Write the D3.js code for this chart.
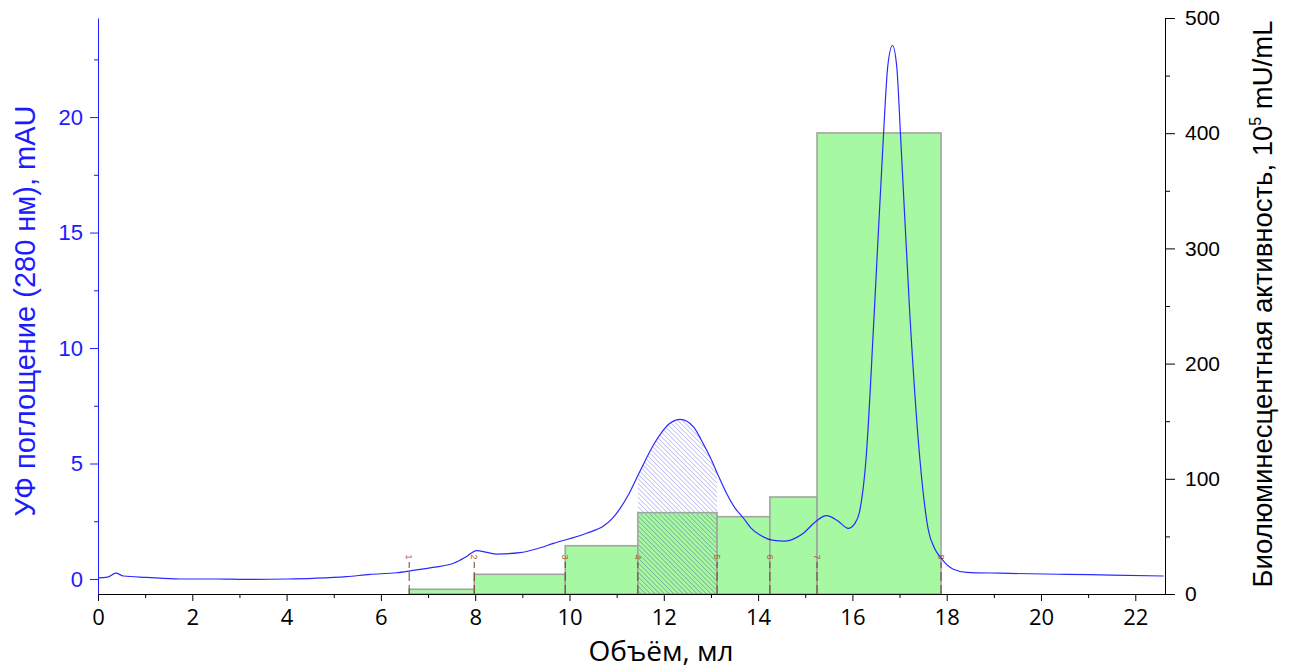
<!DOCTYPE html>
<html>
<head>
<meta charset="utf-8">
<script src="https://cdn.jsdelivr.net/npm/d3@7"></script>
<style>
  body { margin: 0; background: #fff; }
  svg { display: block; }
</style>
</head>
<body>
<svg id="chart" width="1290" height="670"></svg>
<script>
// fraction boundaries (ml) and their labels
const fractionEdges = [6.60, 7.98, 9.91, 11.45, 13.13, 14.25, 15.25, 17.88];
const fractionLabels = ["1", "2", "3", "4", "5", "6", "7", "8"];
// bioluminescent activity per fraction, 10^5 mU/mL
const activity = [4.1, 17.1, 41.9, 70.6, 67.1, 84.2, 400.2];
const hatchedFraction = 3;

// UV 280 nm trace
const uvVolume = [0, 0.2, 0.38, 0.54, 1.03, 1.74, 2.5, 3.15, 4.0, 4.56, 5.27, 5.77, 6.33, 6.62, 7.1, 7.54, 7.8, 8.03, 8.25, 8.46,
  8.95, 9.3, 9.66, 10.36, 10.72, 10.9, 11.07, 11.25, 11.42, 11.6, 11.78, 11.92, 12.13, 12.35, 12.63, 12.8, 12.98, 13.15, 13.33, 13.5,
  13.69, 13.85, 14.04, 14.3, 14.57, 14.8, 14.96, 15.2, 15.45, 15.7, 15.91, 16.05, 16.15, 16.29, 16.46, 16.66, 16.75, 16.85, 16.94, 17.02,
  17.22, 17.43, 17.61, 17.75, 17.88, 18.14, 18.42, 19.13, 20.54, 21.5, 22.6];
const uvAbs = [0.05, 0.08, 0.25, 0.13, 0.07, 0.0, 0.0, -0.02, 0.0, 0.03, 0.1, 0.2, 0.27, 0.35, 0.5, 0.68, 0.95, 1.23, 1.15, 1.08,
  1.14, 1.3, 1.54, 1.98, 2.29, 2.6, 3.05, 3.65, 4.35, 5.1, 5.8, 6.25, 6.74, 6.91, 6.59, 6.0, 5.29, 4.5, 3.71, 3.1,
  2.63, 2.2, 1.9, 1.68, 1.64, 1.78, 1.98, 2.45, 2.74, 2.5, 2.19, 2.4, 2.9, 5.22, 11.39, 19.26, 22.2, 23.1, 22.2, 19.26,
  11.39, 5.22, 2.13, 1.3, 0.9, 0.42, 0.29, 0.25, 0.2, 0.17, 0.13];

const xTicks = [0, 2, 4, 6, 8, 10, 12, 14, 16, 18, 20, 22];
const leftTicks = [0, 5, 10, 15, 20];
const rightTicks = [0, 100, 200, 300, 400, 500];

const plotLeft = 98, plotRight = 1165, plotTop = 18, plotBottom = 594;
const svg = d3.select("#chart");

const x = d3.scaleLinear().domain([0, 22.63]).range([plotLeft, plotRight]);
const yL = d3.scaleLinear().domain([-0.65, 24.29]).range([plotBottom, plotTop]);
const yR = d3.scaleLinear().domain([0, 500]).range([plotBottom, plotTop]);

const uv = uvVolume.map((v, i) => ({ v: v, a: uvAbs[i] }));
const bars = activity.map((a, i) => ({ x0: fractionEdges[i], x1: fractionEdges[i + 1], a: a }));

// hatch patterns
const defs = svg.append("defs");
function hatch(id, color, w) {
  const p = defs.append("pattern")
    .attr("id", id)
    .attr("patternUnits", "userSpaceOnUse")
    .attr("width", 3.3).attr("height", 3.3)
    .attr("patternTransform", "rotate(-45)");
  p.append("line")
    .attr("x1", 0).attr("y1", 0).attr("x2", 0).attr("y2", 3.3)
    .attr("stroke", color).attr("stroke-width", w);
}
hatch("hatchLight", "#9c9cea", 1.1);
hatch("hatchDark", "#5a7a90", 1.1);

const hb = bars[hatchedFraction];
defs.append("clipPath").attr("id", "peakClip")
  .append("rect")
  .attr("x", x(hb.x0)).attr("y", plotTop)
  .attr("width", x(hb.x1) - x(hb.x0)).attr("height", plotBottom - plotTop);

const curve = d3.curveMonotoneX;

// hatched area under the UV peak of the active fraction
svg.append("path")
  .datum(uv)
  .attr("clip-path", "url(#peakClip)")
  .attr("fill", "url(#hatchLight)")
  .attr("d", d3.area().curve(curve).x(d => x(d.v)).y0(plotBottom).y1(d => yL(d.a)));

// activity bars
svg.selectAll("rect.bar")
  .data(bars)
  .enter()
  .append("rect")
  .attr("class", "bar")
  .attr("x", d => x(d.x0))
  .attr("y", d => yR(d.a))
  .attr("width", d => x(d.x1) - x(d.x0))
  .attr("height", d => yR(0) - yR(d.a))
  .attr("fill", "#a6f9a2")
  .attr("stroke", "#a3a3a3")
  .attr("stroke-width", 1.6);

svg.append("rect")
  .attr("x", x(hb.x0) + 1)
  .attr("y", yR(hb.a) + 1)
  .attr("width", x(hb.x1) - x(hb.x0) - 2)
  .attr("height", yR(0) - yR(hb.a) - 1)
  .attr("fill", "url(#hatchDark)")
  .attr("opacity", 0.85);

// fraction markers
const marks = svg.append("g");
fractionEdges.forEach((e, i) => {
  marks.append("line")
    .attr("x1", x(e)).attr("x2", x(e))
    .attr("y1", plotBottom).attr("y2", 562)
    .attr("stroke", "#6e4320")
    .attr("stroke-width", 1)
    .attr("stroke-dasharray", "9,4");
  marks.append("text")
    .attr("transform", "translate(" + (x(e) - 3) + ",557) rotate(90)")
    .attr("text-anchor", "middle")
    .attr("font-family", "Liberation Sans, Arial, sans-serif")
    .attr("font-size", 9)
    .attr("fill", "#a8602c")
    .text(fractionLabels[i]);
});

// UV trace
svg.append("path")
  .datum(uv)
  .attr("fill", "none")
  .attr("stroke", "#2a2aff")
  .attr("stroke-width", 1.2)
  .attr("d", d3.line().curve(curve).x(d => x(d.v)).y(d => yL(d.a)));

// bottom axis
const xAxis = svg.append("g")
  .attr("transform", "translate(0," + plotBottom + ")")
  .call(d3.axisBottom(x).tickValues(xTicks).tickSize(7).tickSizeOuter(0).tickPadding(8));
xAxis.selectAll("text").attr("font-family", "Open Sans, sans-serif").attr("font-size", 22).attr("fill", "#000");
svg.append("g")
  .attr("transform", "translate(0," + plotBottom + ")")
  .call(d3.axisBottom(x).tickValues(d3.range(1, 23, 2)).tickSize(4).tickFormat(""))
  .call(g => g.select(".domain").remove());

// left axis (UV)
const blue = "#1c1cff";
const yAxisL = svg.append("g")
  .attr("transform", "translate(" + plotLeft + ",0)")
  .call(d3.axisLeft(yL).tickValues(leftTicks).tickSize(8).tickSizeOuter(0).tickPadding(7));
yAxisL.selectAll("text").attr("font-family", "Liberation Sans, Arial, sans-serif").attr("font-size", 22).attr("fill", blue);
yAxisL.selectAll("line, path").attr("stroke", blue);
svg.append("g")
  .attr("transform", "translate(" + plotLeft + ",0)")
  .call(d3.axisLeft(yL).tickValues([2.5, 7.5, 12.5, 17.5, 22.5]).tickSize(4).tickFormat(""))
  .call(g => g.select(".domain").remove())
  .selectAll("line").attr("stroke", blue);

// right axis (activity)
const yAxisR = svg.append("g")
  .attr("transform", "translate(" + plotRight + ",0)")
  .call(d3.axisRight(yR).tickValues(rightTicks).tickSize(10).tickSizeOuter(0).tickPadding(10));
yAxisR.selectAll("text").attr("font-family", "Liberation Sans, Arial, sans-serif").attr("font-size", 21).attr("fill", "#000");
svg.append("g")
  .attr("transform", "translate(" + plotRight + ",0)")
  .call(d3.axisRight(yR).tickValues([50, 150, 250, 350, 450]).tickSize(5).tickFormat(""))
  .call(g => g.select(".domain").remove());

// titles
svg.append("text")
  .attr("x", 661)
  .attr("y", 661)
  .attr("text-anchor", "middle")
  .attr("font-family", "Open Sans, sans-serif")
  .attr("font-size", 28)
  .text("Объём, мл");

svg.append("text")
  .attr("transform", "translate(35,311) rotate(-90)")
  .attr("text-anchor", "middle")
  .attr("font-family", "Liberation Sans, Arial, sans-serif")
  .attr("font-size", 29)
  .attr("fill", blue)
  .text("УФ поглощение (280 нм), mAU");

const rt = svg.append("text")
  .attr("transform", "translate(1272,304) rotate(-90)")
  .attr("text-anchor", "middle")
  .attr("font-family", "Liberation Sans, Arial, sans-serif")
  .attr("font-size", 27.5)
  .attr("fill", "#000");
rt.append("tspan").text("Биолюминесцентная активность, 10");
rt.append("tspan").attr("font-size", 16).attr("dy", -11).text("5");
rt.append("tspan").attr("dy", 11).text(" mU/mL");
</script>
</body>
</html>
